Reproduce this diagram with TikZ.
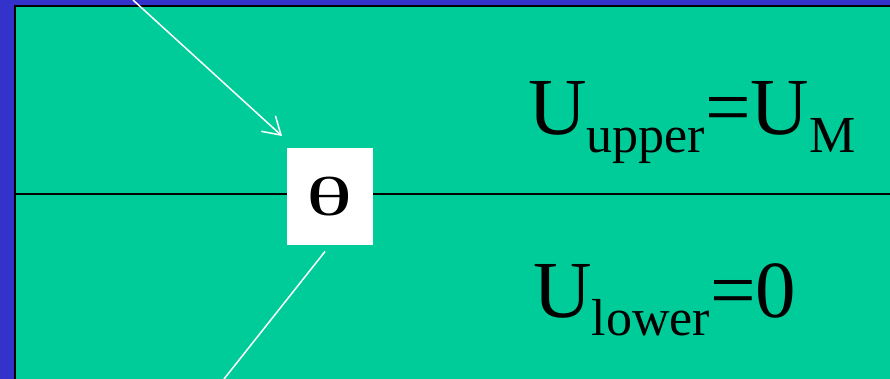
\documentclass[tikz,border=0pt]{standalone}
\usepackage{fontspec}
\setmainfont{Liberation Serif}
\usepackage{tikz}
\usetikzlibrary{arrows.meta}
\definecolor{frameblue}{RGB}{51,51,204}
\definecolor{slabgreen}{RGB}{0,204,153}
\newcommand{\bigsz}{\fontsize{81}{90}\selectfont}
\newcommand{\subtxt}[1]{\raisebox{-18pt}{\fontsize{52}{60}\selectfont #1}}
\begin{document}
\begin{tikzpicture}[
  x=1pt, y=-1pt,
  box/.style={fill=white, inner sep=0pt,
              minimum width=86pt, minimum height=97pt,
              font=\fontsize{55}{60}\selectfont},
  label/.style={anchor=base west, inner sep=0pt, font=\bigsz},
  wire/.style={draw=white, line width=1.5pt},
  arrow/.style={wire, -{Straight Barb[length=17pt,width=21pt,line width=1.5pt]}}
]
\useasboundingbox (0,0) rectangle (890,379);
\clip (0,0) rectangle (890,379);
% frame and fluid
\fill[frameblue] (0,0) rectangle (890,379);
\filldraw[fill=slabgreen, draw=black, line width=1.4pt] (15,6) rectangle (900,400);
\draw[black, line width=1.4pt] (15,194) -- (900,194);
% angle marker and labels
\node[box] (theta) at (330,196.5) {\scalebox{1.75}[1]{θ}};
\node[label] (upper) at (528,135) {U\subtxt{upper}=U\subtxt{M}};
\node[label] (lower) at (533,317) {U\subtxt{lower}=0};
% connectors
\coordinate (src) at (133,0);
\coordinate (tip) at (282,136);
\coordinate (out) at (224,379);
\draw[arrow] (src) -- (tip);
\draw[wire, shorten <=8pt] (theta.south) -- (out);
\end{tikzpicture}
\end{document}
